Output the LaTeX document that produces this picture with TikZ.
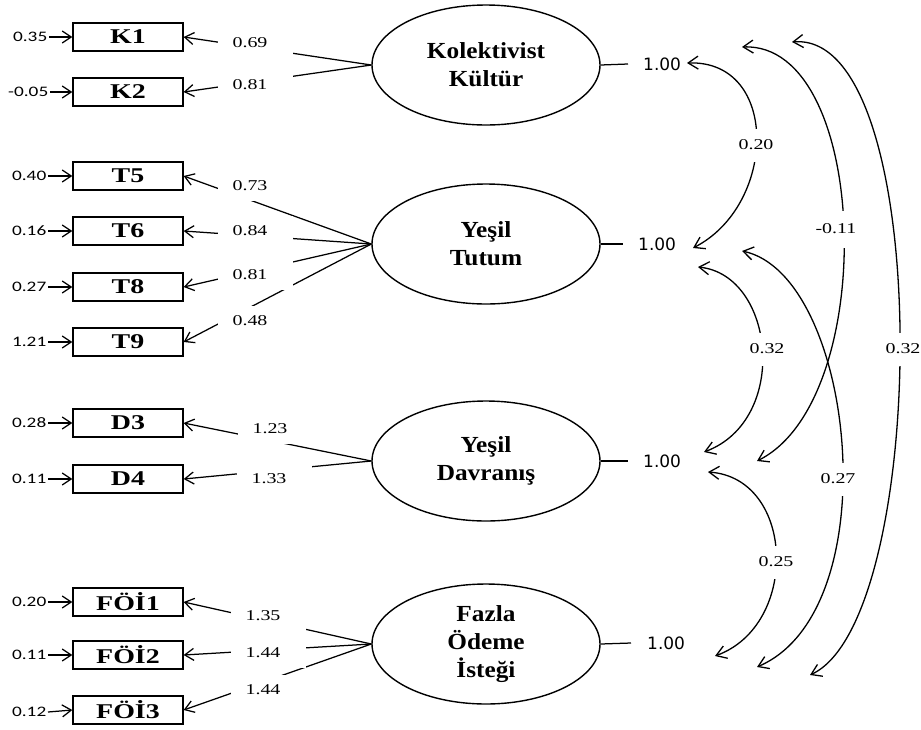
\documentclass[tikz,border=0pt]{standalone}
\usepackage{graphicx}
\usepackage{fontspec}
\setmainfont{Liberation Serif}
\newfontfamily\dvs{DejaVu Sans}
\newfontfamily\carl{Carlito}
\usetikzlibrary{shapes.geometric,arrows.meta}
\newcommand{\hs}[1]{\scalebox{1.33}[1]{#1}}
\newcommand{\hx}[1]{\scalebox{1.1}[1]{#1}}
\newcommand{\lt}[1]{\hspace*{-10pt}\hs{#1}}
\begin{document}
\begin{tikzpicture}[x=1pt,y=-1pt,
 obs/.style={draw,line width=1.3pt,minimum width=110pt,minimum height=28pt,inner sep=0pt,font=\fontsize{21}{21}\selectfont\bfseries},
 lat/.style={ellipse,draw,line width=1.4pt,minimum width=228pt,minimum height=120pt,inner sep=0pt,align=center,font=\fontsize{23}{28}\selectfont\bfseries},
 ld/.style={fill=white,minimum width=75pt,minimum height=30pt,inner sep=0pt,font=\fontsize{15}{15}\selectfont},
 cv/.style={fill=white,inner xsep=3pt,inner ysep=0pt,minimum height=33pt,font=\fontsize{15}{15}\selectfont},
 er/.style={anchor=east,inner sep=1.5pt,font=\carl\fontsize{14.5}{14.5}\selectfont},
 one/.style={inner sep=0pt,anchor=west,font=\dvs\fontsize{17}{17}\selectfont},
 arr/.style={line width=1.25pt,-{Straight Barb[length=9pt,width=12pt]}},
 dbl/.style={line width=1.3pt,{Straight Barb[length=10pt,width=13pt]}-{Straight Barb[length=10pt,width=13pt]}},
 ln/.style={line width=1.25pt}]
\useasboundingbox (0,0) rectangle (921,729);

% latent variables
\node[lat] (KK) at (486,65) {\hx{Kolektivist}\\\hx{Kültür}};
\node[lat] (YT) at (486,244) {\hx{Yeşil}\\\hx{Tutum}};
\node[lat] (YD) at (486,461) {\hx{Yeşil}\\\hx{Davranış}};
\node[lat] (FO) at (486,644) {\hx{Fazla}\\\hx{Ödeme}\\\hx{İsteği}};

% observed variables
\node[obs] (K1) at (128,37) {\hs{K1}};
\node[obs] (K2) at (128,92) {\hs{K2}};
\node[obs] (T5) at (128,176) {\hs{T5}};
\node[obs] (T6) at (128,231) {\hs{T6}};
\node[obs] (T8) at (128,287) {\hs{T8}};
\node[obs] (T9) at (128,342) {\hs{T9}};
\node[obs] (D3) at (128,423) {\hs{D3}};
\node[obs] (D4) at (128,479) {\hs{D4}};
\node[obs] (F1) at (128,602) {\hs{FÖİ1}};
\node[obs] (F2) at (128,655) {\hs{FÖİ2}};
\node[obs] (F3) at (128,710) {\hs{FÖİ3}};

% error terms
\node[er] (eK1) at (49,37) {\hs{0.35}};
\node[er] (eK2) at (50,92) {\hs{-0.05}};
\node[er] (eT5) at (48,176) {\hs{0.40}};
\node[er] (eT6) at (48,231) {\hs{0.16}};
\node[er] (eT8) at (48,287) {\hs{0.27}};
\node[er] (eT9) at (48,342) {\hs{1.21}};
\node[er] (eD3) at (48,423) {\hs{0.28}};
\node[er] (eD4) at (48,479) {\hs{0.11}};
\node[er] (eF1) at (48,602) {\hs{0.20}};
\node[er] (eF2) at (48,655) {\hs{0.11}};
\node[er] (eF3) at (48,712) {\hs{0.12}};
\foreach \n in {K1,K2,T5,T6,T8,T9,D3,D4,F1,F2,F3}
  \draw[arr] (e\n.east) -- (\n.west);

% loadings
\draw[arr] (KK.west) -- (K1.east);
\draw[arr] (KK.west) -- (K2.east);
\draw[arr] (YT.west) -- (T5.east);
\draw[arr] (YT.west) -- (T6.east);
\draw[arr] (YT.west) -- (T8.east);
\draw[arr] (YT.west) -- (T9.east);
\draw[arr] (YD.west) -- (D3.east);
\draw[arr] (YD.west) -- (D4.east);
\draw[arr] (FO.west) -- (F1.east);
\draw[arr] (FO.west) -- (F2.east);
\draw[arr] (FO.west) -- (F3.east);

\node[ld] (lK1) at (255,43) {\lt{0.69}};
\node[ld] (lK2) at (255,85) {\lt{0.81}};
\node[ld] (lT5) at (255,186) {\lt{0.73}};
\node[ld] (lT6) at (255,231) {\lt{0.84}};
\node[ld] (lT8) at (255,275) {\lt{0.81}};
\node[ld] (lT9) at (255,321) {\lt{0.48}};
\node[ld] (lD3) at (275,429) {\lt{1.23}};
\node[ld] (lD4) at (274,479) {\lt{1.33}};
\node[ld] (lF1) at (268,616) {\lt{1.35}};
\node[ld] (lF2) at (268,653) {\lt{1.44}};
\node[ld] (lF3) at (268,690) {\lt{1.44}};

% variances
\node[one] (v1) at (643,64) {1.00};
\node[one] (v2) at (638,244) {1.00};
\node[one] (v3) at (643,461) {1.00};
\node[one] (v4) at (647,643) {1.00};
\draw[ln] (KK.east) -- ([xshift=-15pt]v1.west);
\draw[ln] (YT.east) -- ([xshift=-15pt]v2.west);
\draw[ln] (YD.east) -- ([xshift=-15pt]v3.west);
\draw[ln] (FO.east) -- ([xshift=-16pt]v4.west);

% covariance end points
\coordinate (c1a) at (687,63);
\coordinate (c1b) at (742,47);
\coordinate (c1c) at (792,42);
\coordinate (c2a) at (693,248);
\coordinate (c2b) at (698,267);
\coordinate (c2c) at (742,251);
\coordinate (c3a) at (704,452);
\coordinate (c3b) at (757,461);
\coordinate (c3c) at (708,472);
\coordinate (c4a) at (715,656);
\coordinate (c4b) at (757,667);
\coordinate (c4c) at (810,675);

\draw[dbl] (c1a) .. controls (780,60) and (777,205) .. (c2a);
\draw[dbl] (c1b) .. controls (870,42) and (880,400) .. (c3b);
\draw[dbl] (c1c) .. controls (935,30) and (930,620) .. (c4c);
\draw[dbl] (c2b) .. controls (775,275) and (790,420) .. (c3a);
\draw[dbl] (c2c) .. controls (855,275) and (890,610) .. (c4b);
\draw[dbl] (c3c) .. controls (795,478) and (800,625) .. (c4a);

\node[cv] (r1) at (756,145) {\hs{0.20}};
\node[cv,minimum height=37pt] (r2) at (836,229) {\hs{-0.11}};
\node[cv] (r3) at (767,349) {\hs{0.32}};
\node[cv] (r4) at (903,349) {\hs{0.32}};
\node[cv] (r5) at (838,479) {\hs{0.27}};
\node[cv] (r6) at (776,562) {\hs{0.25}};
\end{tikzpicture}
\end{document}
